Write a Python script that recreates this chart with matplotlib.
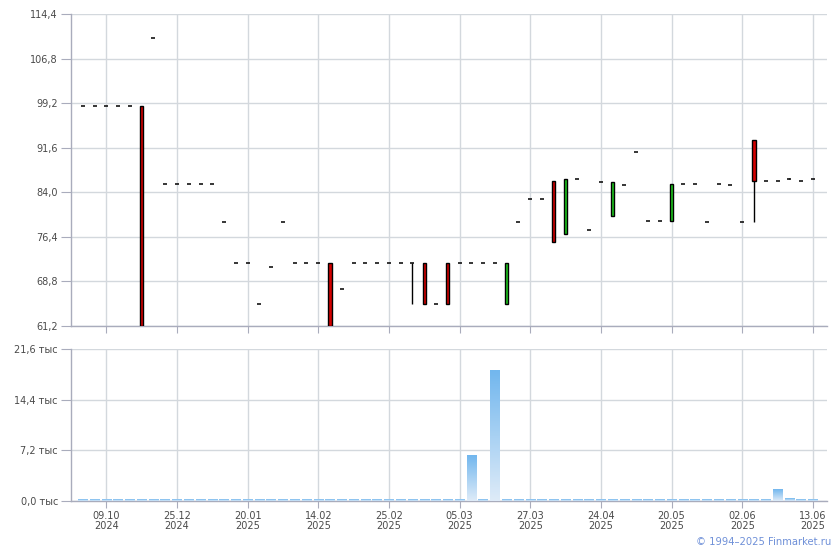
import numpy as np
import matplotlib
matplotlib.use("Agg")
import matplotlib.pyplot as plt
from matplotlib.patches import Rectangle
from matplotlib.colors import LinearSegmentedColormap
from matplotlib.ticker import FixedLocator, FuncFormatter

# ---------------- data ----------------
opens = [98.8, 98.8, 98.8, 98.8, 98.8, 98.8, 110.4, 85.4, 85.4, 85.4,
         85.4, 85.4, 78.9, 71.9, 71.9, 64.9, 71.3, 78.9, 71.9, 71.9,
         71.9, 71.9, 67.5, 71.9, 71.9, 71.9, 71.9, 71.9, 71.9, 71.9,
         64.9, 71.9, 71.9, 71.9, 71.9, 71.9, 64.9, 78.9, 82.8, 82.8,
         85.9, 76.8, 86.2, 77.6, 85.7, 79.9, 85.2, 90.8, 79.1, 79.1,
         79.1, 85.4, 85.4, 78.9, 85.4, 85.2, 78.9, 92.9, 85.9, 85.9,
         86.2, 85.9, 86.2]
closes = [98.8, 98.8, 98.8, 98.8, 98.8, 61.2, 110.4, 85.4, 85.4, 85.4,
          85.4, 85.4, 78.9, 71.9, 71.9, 64.9, 71.3, 78.9, 71.9, 71.9,
          71.9, 61.2, 67.5, 71.9, 71.9, 71.9, 71.9, 71.9, 71.9, 64.9,
          64.9, 64.9, 71.9, 71.9, 71.9, 71.9, 71.9, 78.9, 82.8, 82.8,
          75.5, 86.2, 86.2, 77.6, 85.7, 85.7, 85.2, 90.8, 79.1, 79.1,
          85.4, 85.4, 85.4, 78.9, 85.4, 85.2, 78.9, 85.9, 85.9, 85.9,
          86.2, 85.9, 86.2]
highs = [max(o, c) for o, c in zip(opens, closes)]
lows = [min(o, c) for o, c in zip(opens, closes)]
lows[28] = 64.9
lows[57] = 78.9
highs[60] = 86.45

volumes = [150] * 63
volumes[33] = 6400
volumes[35] = 18500
volumes[59] = 1600
volumes[60] = 300

tick_idx = [2, 8, 14, 20, 26, 32, 38, 44, 50, 56, 62]
tick_labels = ["09.10\n2024", "25.12\n2024", "20.01\n2025", "14.02\n2025",
               "25.02\n2025", "05.03\n2025", "27.03\n2025", "24.04\n2025",
               "20.05\n2025", "02.06\n2025", "13.06\n2025"]
price_ticks = [61.2, 68.8, 76.4, 84.0, 91.6, 99.2, 106.8, 114.4]
vol_ticks = [0, 7200, 14400, 21600]

# ---------------- style ----------------
GRID = "#d3d8dd"
SPINE = "#a9acbc"
TXT = "#4a4a4a"
RED = "#d40000"
GREEN = "#1ec81e"
plt.rcParams['font.family'] = ['DejaVu Sans']

fig = plt.figure(figsize=(8.4, 5.5), dpi=100)
ax = fig.add_axes([70.5 / 840, 224.2 / 550, 756.5 / 840, 311.5 / 550])
axv = fig.add_axes([70.5 / 840, 49 / 550, 756.5 / 840, 152 / 550])

x = np.arange(len(opens))
xlim = (-1.04, 63.2)

def style(a):
    a.set_facecolor("white")
    for s in ["top", "right"]:
        a.spines[s].set_visible(False)
    for s in ["left", "bottom"]:
        a.spines[s].set_color(SPINE)
        a.spines[s].set_linewidth(1)
    a.grid(True, color=GRID, linewidth=1)
    a.set_axisbelow(True)
    a.tick_params(axis="y", direction="out", length=7, color=SPINE, labelsize=7,
                  labelcolor=TXT, pad=2)
    a.tick_params(axis="x", direction="out", length=5, color=SPINE, labelsize=7,
                  labelcolor=TXT, pad=2)
    a.set_xlim(*xlim)
    a.xaxis.set_major_locator(FixedLocator(tick_idx))

style(ax)
style(axv)

# ---------------- candles ----------------
bw = 0.27
dw = 0.17
for i in x:
    o, c, h, l = opens[i], closes[i], highs[i], lows[i]
    if h > l:
        ax.vlines(i, l, h, color="black", linewidth=1, zorder=3)
    if o == c:
        ax.hlines(o, i - dw, i + dw, color="black", linewidth=1.1, zorder=4)
    else:
        col = GREEN if c > o else RED
        ax.add_patch(Rectangle((i - bw / 2, min(o, c)), bw, abs(c - o),
                               facecolor=col, edgecolor="black", linewidth=1,
                               zorder=4))

ax.set_ylim(61.2, 114.4)
ax.yaxis.set_major_locator(FixedLocator(price_ticks))
ax.yaxis.set_major_formatter(FuncFormatter(lambda v, p: f"{v:.1f}".replace(".", ",")))
ax.set_xticklabels([])

# ---------------- volume ----------------
cmap = LinearSegmentedColormap.from_list("vb", ["#deebf8", "#72b7ee"])
grad = np.linspace(0, 1, 64).reshape(-1, 1)
vw = 0.8
for i in x:
    v = volumes[i]
    axv.imshow(grad, cmap=cmap, origin="lower", aspect="auto",
               extent=[i - vw / 2, i + vw / 2, 0, v], zorder=3,
               interpolation="bilinear")
axv.set_xlim(*xlim)
axv.set_ylim(0, 21600)
axv.set_aspect("auto")
axv.yaxis.set_major_locator(FixedLocator(vol_ticks))
axv.yaxis.set_major_formatter(FuncFormatter(lambda v, p: f"{v/1000:.1f} тыс".replace(".", ",")))
axv.set_xticklabels(tick_labels, linespacing=1.05)

fig.text(831 / 840, 1 - 542 / 550, "© 1994–2025 Finmarket.ru", ha="right", va="center",
         fontsize=7.2, color="#6f90d8")

fig.savefig("out.png", dpi=100)
